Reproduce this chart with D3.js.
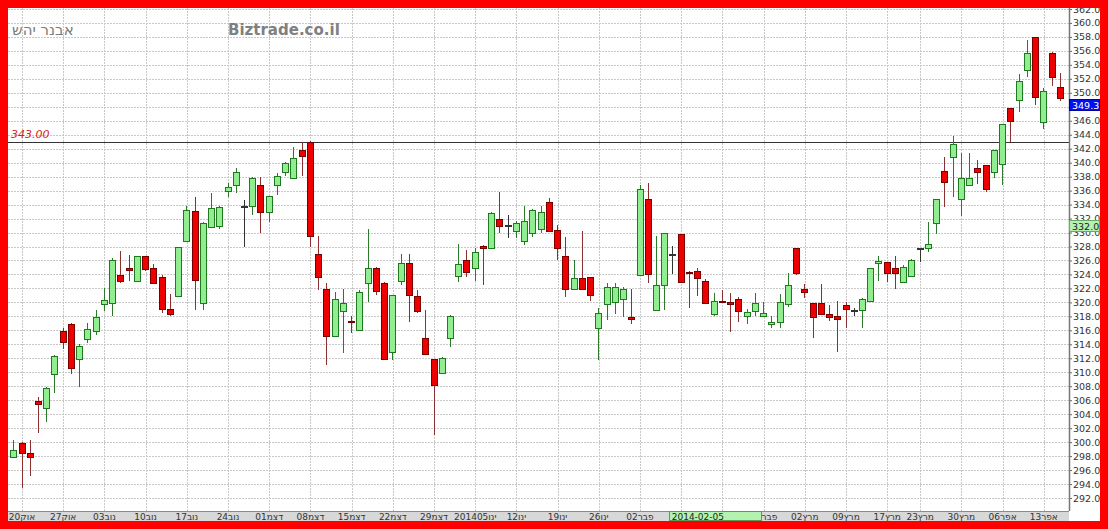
<!DOCTYPE html>
<html><head><meta charset="utf-8">
<script src="https://cdn.jsdelivr.net/npm/d3@7/dist/d3.min.js"></script>
<style>body{margin:0;background:#fff}svg{display:block}</style>
</head><body>
<script>
const dates = ['2013-10-17',
'2013-10-20','2013-10-21','2013-10-22','2013-10-23','2013-10-24',
'2013-10-27','2013-10-28','2013-10-29','2013-10-30','2013-10-31',
'2013-11-03','2013-11-04','2013-11-05','2013-11-06','2013-11-07',
'2013-11-10','2013-11-11','2013-11-12','2013-11-13','2013-11-14',
'2013-11-17','2013-11-18','2013-11-19','2013-11-20','2013-11-21',
'2013-11-24','2013-11-25','2013-11-26','2013-11-27','2013-11-28',
'2013-12-01','2013-12-02','2013-12-03','2013-12-04','2013-12-05',
'2013-12-08','2013-12-09','2013-12-10','2013-12-11','2013-12-12',
'2013-12-15','2013-12-16','2013-12-17','2013-12-18','2013-12-19',
'2013-12-22','2013-12-23','2013-12-24','2013-12-25','2013-12-26',
'2013-12-29','2013-12-30','2013-12-31','2014-01-01','2014-01-02',
'2014-01-05','2014-01-06','2014-01-07','2014-01-08','2014-01-09',
'2014-01-12','2014-01-13','2014-01-14','2014-01-15','2014-01-16',
'2014-01-19','2014-01-20','2014-01-21','2014-01-22','2014-01-23',
'2014-01-26','2014-01-27','2014-01-28','2014-01-29','2014-01-30',
'2014-02-02','2014-02-03','2014-02-04','2014-02-05','2014-02-06',
'2014-02-09','2014-02-10','2014-02-11','2014-02-12','2014-02-13',
'2014-02-16','2014-02-17','2014-02-18','2014-02-19','2014-02-20',
'2014-02-23','2014-02-24','2014-02-25','2014-02-26','2014-02-27',
'2014-03-02','2014-03-03','2014-03-04','2014-03-05','2014-03-06',
'2014-03-09','2014-03-10','2014-03-11','2014-03-12','2014-03-13',
'2014-03-17','2014-03-18','2014-03-19','2014-03-20',
'2014-03-23','2014-03-24','2014-03-25','2014-03-26','2014-03-27',
'2014-03-30','2014-03-31','2014-04-01','2014-04-02','2014-04-03',
'2014-04-06','2014-04-07','2014-04-08','2014-04-09','2014-04-10',
'2014-04-13','2014-04-14','2014-04-15'];

const open = [297.9,299.9,298.4,305.9,304.9,309.75,315.9,316.9,311.9,314.8,
315.9,319.7,319.9,323.9,324.9,323.1,326.6,324.9,323.6,319.1,
320.9,328.8,333.1,319.9,330.8,331.0,335.9,336.8,333.8,333.8,
336.8,332.9,336.8,338.6,337.85,341.8,343.0,326.9,321.9,315.2,
318.8,317.4,316.05,322.8,324.9,322.8,312.9,323.0,325.6,320.9,
314.9,311.85,309.9,314.9,323.8,326.0,324.9,328.1,327.8,332.0,
331.1,330.2,328.8,329.9,330.5,334.3,330.3,326.65,321.9,323.45,
323.6,316.4,319.7,320.0,320.5,317.9,323.9,334.8,318.9,322.5,
326.9,329.8,324.4,324.55,323.0,318.3,320.2,320.0,320.45,318.05,
318.8,318.05,316.9,317.15,319.8,327.8,321.9,319.9,319.9,318.3,
318.05,319.6,318.9,318.9,320.25,325.6,325.8,324.9,322.9,323.8,
327.75,327.8,331.3,338.85,340.85,334.75,336.8,339.3,339.65,338.7,
339.75,347.8,348.9,353.3,357.95,345.8,355.75,350.8];
const high = [300.3,300.0,300.3,306.5,307.9,312.5,316.4,317.0,314.0,317.0,
318.9,322.0,326.4,327.3,326.8,326.7,326.7,325.45,323.9,321.2,
328.0,333.8,335.1,331.5,335.7,333.8,337.05,339.2,334.65,337.9,
338.0,335.3,338.5,340.05,342.2,342.9,343.1,329.5,322.75,321.5,
321.9,318.1,321.8,330.5,325.0,322.9,321.1,326.9,326.9,321.8,
318.9,311.9,312.2,318.2,328.4,327.5,327.75,328.2,333.0,335.85,
332.5,331.7,333.8,333.3,333.8,334.9,331.1,329.3,326.0,330.2,
323.7,319.15,322.8,322.8,322.2,321.95,336.8,337.05,329.5,330.0,
328.1,329.85,324.45,324.9,323.3,321.4,321.8,321.3,320.8,319.0,
321.4,320.0,318.0,321.2,324.2,327.85,322.65,319.95,322.65,319.6,
320.25,320.1,319.15,320.7,324.95,326.65,325.85,326.7,325.35,326.15,
327.8,331.55,334.85,340.75,343.8,341.4,341.35,340.4,339.7,341.85,
345.55,347.85,352.65,357.55,358.0,350.65,355.8,352.8];
const low = [297.7,293.4,295.1,301.35,302.9,307.0,313.3,309.8,307.9,314.15,
315.3,318.8,318.05,322.8,323.0,323.0,324.5,322.7,318.45,318.0,
320.8,328.7,318.9,318.9,330.8,330.5,335.1,335.6,327.9,332.5,
329.9,331.55,335.4,338.15,337.8,338.1,327.9,321.8,311.0,315.1,
312.8,315.6,316.0,320.0,321.0,311.85,311.75,322.5,317.15,318.45,
312.4,301.0,309.7,313.6,322.9,323.6,323.1,322.5,327.7,330.0,
329.2,329.2,328.2,329.3,329.9,330.1,326.0,320.8,321.8,321.8,
320.2,311.75,317.5,318.3,317.9,316.9,323.85,322.75,318.85,318.9,
324.0,322.85,319.25,320.9,319.85,318.0,319.95,315.8,317.15,316.9,
318.05,318.0,316.3,316.3,319.4,323.9,320.6,314.95,318.25,317.4,
312.85,316.4,318.1,316.4,320.1,323.1,322.9,321.9,322.85,323.75,
325.8,327.25,329.8,333.7,335.1,332.4,336.75,336.9,335.75,337.85,
336.8,342.9,347.3,352.3,348.25,344.8,351.0,348.8];
const close = [298.9,298.4,297.8,305.5,307.8,312.3,314.4,310.6,313.8,316.2,
317.9,320.3,326.1,323.1,324.6,326.6,324.8,322.8,319.0,318.3,
327.9,333.2,323.2,331.3,333.5,333.7,336.5,338.7,333.8,337.8,
332.9,335.2,338.15,339.9,340.6,340.9,329.5,323.6,315.2,320.5,
319.9,317.2,321.5,324.9,321.6,311.9,321.0,325.6,321.0,318.8,
312.6,308.2,312.0,318.1,325.45,324.4,327.2,327.8,332.75,330.9,
331.1,331.3,331.7,333.2,333.0,330.2,327.8,321.9,323.45,321.9,
321.05,318.5,322.25,322.25,321.9,317.6,336.2,324.0,322.5,329.9,
326.9,322.9,324.2,323.45,319.9,320.2,320.0,319.8,318.8,318.6,
319.9,318.45,317.15,320.0,322.5,324.25,321.55,317.9,318.3,317.95,
317.6,319.0,318.9,320.5,324.9,325.95,324.2,324.2,325.0,326.1,
327.75,328.3,334.8,337.2,342.7,337.8,337.8,338.7,336.3,341.8,
345.5,345.9,351.7,355.65,349.45,350.3,352.2,349.3];

const tickDates = ['2013-10-20','2013-10-27','2013-11-03','2013-11-10','2013-11-17','2013-11-24',
'2013-12-01','2013-12-08','2013-12-15','2013-12-22','2013-12-29','2014-01-05','2014-01-12',
'2014-01-19','2014-01-26','2014-02-02','2014-02-09','2014-02-16','2014-02-23','2014-03-02',
'2014-03-09','2014-03-17','2014-03-23','2014-03-30','2014-04-06','2014-04-13'];
// labels for 09 and 16 Feb are hidden behind the cursor date box in the reference
const tickLabels = ['20אוק','27אוק','03נוב','10נוב','17נוב','24נוב','01דצמ','08דצמ','15דצמ',
'22דצמ','29דצמ','201405ינו','12ינו','19ינו','26ינו','02פבר','','','23פבר',
'02מרץ','09מרץ','17מרץ','23מרץ','30מרץ','06אפר','13אפר'];
const yTicks = [292,294,296,298,300,302,304,306,308,310,312,314,316,318,320,322,324,326,328,
330,332,334,336,338,340,342,344,346,348,350,352,354,356,358,360,362];

const title = 'אבנר יהש';
const site = 'Biztrade.co.il';
const refLevel = 343.00;
const lastPrice = 349.3;
const cursorPrice = 332.0;
const cursorDate = '2014-02-05';

const W = 1108, H = 529;
const L = 8, T = 8, R = 1069, B = 511;

const svg = d3.select('body').append('svg').attr('width', W).attr('height', H);
svg.append('rect').attr('width', W).attr('height', H).attr('fill', '#fff');

const x = d3.scaleBand().domain(dates).range([9.64, 9.64 + dates.length * 8.24]);
const xc = d => x(d) + x.bandwidth() / 2;
const y = d3.scaleLinear().domain([290.14, 362.14]).range([B, T]);

const grid = svg.append('g').attr('shape-rendering', 'crispEdges');
grid.selectAll('line.h').data(yTicks).join('line').attr('class', 'h')
  .attr('x1', L).attr('x2', R)
  .attr('y1', d => Math.round(y(d)) + 0.5).attr('y2', d => Math.round(y(d)) + 0.5)
  .attr('stroke', '#c8c8c8').attr('stroke-dasharray', '2,1');
grid.selectAll('line.v').data(tickDates).join('line').attr('class', 'v')
  .attr('x1', d => Math.round(xc(d)) + 0.5).attr('x2', d => Math.round(xc(d)) + 0.5)
  .attr('y1', T).attr('y2', B)
  .attr('stroke', '#c8c8c8').attr('stroke-dasharray', '2,1');

// titles
svg.append('text').attr('x', 12).attr('y', 35).text(title)
  .attr('font-family', 'DejaVu Sans').attr('font-size', 15).attr('fill', '#7c7c7c');
svg.append('text').attr('x', 228).attr('y', 35).text(site)
  .attr('font-family', 'DejaVu Sans').attr('font-weight', 'bold').attr('font-size', 15).attr('fill', '#808080');

// reference line
svg.append('line').attr('x1', L).attr('x2', R)
  .attr('y1', Math.round(y(refLevel)) + 0.5).attr('y2', Math.round(y(refLevel)) + 0.5)
  .attr('stroke', '#333').attr('shape-rendering', 'crispEdges');
svg.append('text').attr('x', 11).attr('y', y(refLevel) - 3.5).text(refLevel.toFixed(2))
  .attr('font-family', 'DejaVu Sans').attr('font-style', 'italic').attr('font-size', 11).attr('fill', '#d42020');

// candles
const data = dates.map((d, i) => ({d, o: open[i], h: high[i], l: low[i], c: close[i]}));
const cg = svg.append('g').attr('shape-rendering', 'crispEdges');
const colr = d => d.c > d.o ? 'up' : (d.c < d.o ? 'down' : 'flat');
const wickCol = {up: '#2a7a2a', down: '#8a3030', flat: '#333'};
const fillCol = {up: '#90ee90', down: '#ee0000', flat: '#333'};
const strokeCol = {up: '#1f7a1f', down: '#7a0000', flat: '#333'};
cg.selectAll('line.wick').data(data).join('line').attr('class', 'wick')
  .attr('x1', d => Math.floor(xc(d.d)) + 0.5).attr('x2', d => Math.floor(xc(d.d)) + 0.5)
  .attr('y1', d => y(d.h)).attr('y2', d => y(d.l))
  .attr('stroke', d => wickCol[colr(d)]);
cg.selectAll('rect.body').data(data).join('rect').attr('class', 'body')
  .attr('x', d => Math.floor(xc(d.d)) - 2.5)
  .attr('width', 6)
  .attr('y', d => Math.round(y(Math.max(d.o, d.c))) + 0.5)
  .attr('height', d => Math.max(1, Math.round(y(Math.min(d.o, d.c))) - Math.round(y(Math.max(d.o, d.c)))))
  .attr('fill', d => fillCol[colr(d)])
  .attr('stroke', d => strokeCol[colr(d)]);

// right axis
svg.append('rect').attr('x', R).attr('y', T).attr('width', W - 8 - R).attr('height', H - 8 - T).attr('fill', '#fff');
const ya = svg.append('g').attr('transform', `translate(${R},0)`)
  .call(d3.axisRight(y).tickValues(yTicks).tickSize(3).tickPadding(1).tickFormat(d3.format('.1f')));
ya.select('.domain').remove();
ya.selectAll('line').attr('stroke', '#666');
ya.selectAll('text').attr('font-family', 'DejaVu Sans').attr('font-size', 9.5).attr('fill', '#333');
svg.append('line').attr('x1', R + 0.5).attr('x2', R + 0.5).attr('y1', T).attr('y2', B)
  .attr('stroke', '#777').attr('stroke-width', 1.5);

// bottom strip
svg.append('rect').attr('x', L).attr('y', B).attr('width', R - L).attr('height', 10)
  .attr('fill', '#d8d8d8').attr('shape-rendering', 'crispEdges');
svg.append('line').attr('x1', L).attr('x2', R).attr('y1', B + 0.5).attr('y2', B + 0.5)
  .attr('stroke', '#8a8a8a').attr('shape-rendering', 'crispEdges');
const xa = svg.append('g').attr('transform', `translate(0,${B})`)
  .call(d3.axisBottom(x).tickValues(tickDates).tickSize(0).tickFormat((d, i) => tickLabels[i]));
xa.select('.domain').remove();
xa.selectAll('text').attr('y', 8.6).attr('dy', 0)
  .attr('font-family', 'DejaVu Sans').attr('font-size', 9).attr('fill', '#333');

// cursor date box
const cx0 = xc(cursorDate) + 4;
svg.append('rect').attr('x', Math.round(cx0) + 0.5).attr('y', B + 0.5).attr('width', 92).attr('height', 9)
  .attr('fill', '#b4f2b0').attr('stroke', '#5a9a5a').attr('shape-rendering', 'crispEdges');
svg.append('text').attr('x', cx0 + 3).attr('y', B + 8.6).text(cursorDate)
  .attr('font-family', 'DejaVu Sans').attr('font-size', 9).attr('fill', '#222');

// price boxes
function priceBox(v, fill, stroke, tc) {
  const yy = Math.round(y(v)) + 1;
  svg.append('rect').attr('x', R + 0.5).attr('y', yy + 0.5).attr('width', 30).attr('height', 11)
    .attr('fill', fill).attr('stroke', stroke).attr('shape-rendering', 'crispEdges');
  svg.append('text').attr('x', R + 3).attr('y', yy + 9.5).text(v.toFixed(1))
    .attr('font-family', 'DejaVu Sans').attr('font-size', 9.5).attr('fill', tc);
}
priceBox(cursorPrice, '#b4f2b0', '#6aa86a', '#222');
priceBox(lastPrice, '#0010ee', '#0000aa', '#fff');

// red frame
const fr = svg.append('g').attr('fill', '#ff0000').attr('shape-rendering', 'crispEdges');
fr.append('rect').attr('x', 0).attr('y', 0).attr('width', W).attr('height', 8);
fr.append('rect').attr('x', 0).attr('y', 521).attr('width', W).attr('height', 8);
fr.append('rect').attr('x', 0).attr('y', 0).attr('width', 8).attr('height', H);
fr.append('rect').attr('x', 1100).attr('y', 0).attr('width', 8).attr('height', H);
</script>
</body></html>
